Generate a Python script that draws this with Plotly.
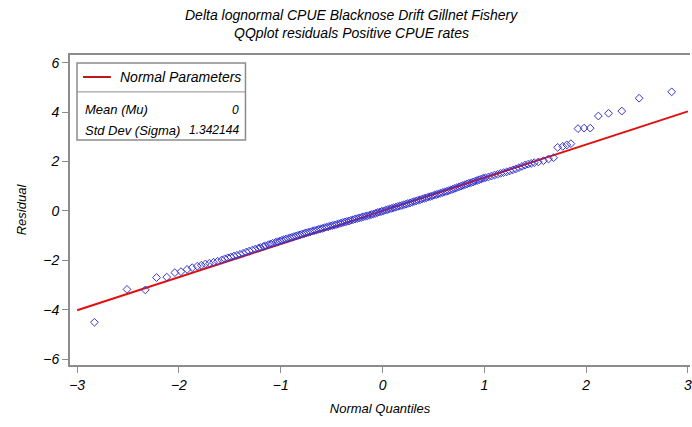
import plotly.graph_objects as go

# Normal quantiles (x) and sorted residuals (y)
quantiles = [-2.83, -2.51, -2.33, -2.22, -2.12, -2.04, -1.98, -1.92, -1.87, -1.82, -1.78, -1.74, -1.70, -1.66,
             -1.62, -1.58, -1.55, -1.52, -1.49, -1.46, -1.43, -1.40, -1.37, -1.34, -1.31, -1.28, -1.25, -1.22,
             -1.20, -1.17, -1.15, -1.12, -1.10, -1.08, -1.05, -1.03, -1.01, -0.99, -0.97, -0.95, -0.93, -0.91,
             -0.89, -0.87, -0.85, -0.83, -0.81, -0.79, -0.77, -0.75, -0.73, -0.71, -0.69, -0.67, -0.65, -0.63,
             -0.61, -0.59, -0.57, -0.55, -0.53, -0.51, -0.49, -0.47, -0.45, -0.43, -0.41, -0.39, -0.37, -0.35,
             -0.33, -0.31, -0.29, -0.27, -0.25, -0.23, -0.21, -0.19, -0.17, -0.15, -0.13, -0.11, -0.09, -0.07,
             -0.05, -0.03, -0.01, 0.01, 0.03, 0.05, 0.07, 0.09, 0.11, 0.13, 0.15, 0.17, 0.19, 0.21, 0.23, 0.25,
             0.27, 0.29, 0.31, 0.33, 0.35, 0.37, 0.39, 0.41, 0.43, 0.45, 0.47, 0.49, 0.51, 0.53, 0.55, 0.57,
             0.59, 0.61, 0.63, 0.65, 0.67, 0.69, 0.71, 0.73, 0.75, 0.77, 0.79, 0.81, 0.83, 0.85, 0.87, 0.89,
             0.91, 0.93, 0.95, 0.97, 0.99, 1.01, 1.04, 1.07, 1.10, 1.13, 1.16, 1.19, 1.22, 1.25, 1.28, 1.31,
             1.34, 1.37, 1.40, 1.43, 1.46, 1.49, 1.53, 1.58, 1.63, 1.68, 1.72, 1.77, 1.81, 1.85, 1.92, 1.98,
             2.04, 2.12, 2.22, 2.35, 2.52, 2.84]
residuals = [-4.51, -3.18, -3.20, -2.70, -2.68, -2.50, -2.46, -2.37, -2.30, -2.24, -2.20, -2.15, -2.12, -2.08,
             -2.04, -1.99, -1.94, -1.90, -1.87, -1.83, -1.80, -1.76, -1.72, -1.67, -1.63, -1.59, -1.55, -1.51,
             -1.48, -1.44, -1.41, -1.37, -1.34, -1.31, -1.27, -1.25, -1.22, -1.19, -1.17, -1.14, -1.12, -1.09,
             -1.07, -1.04, -1.02, -0.99, -0.97, -0.94, -0.92, -0.89, -0.87, -0.85, -0.82, -0.80, -0.78, -0.75,
             -0.73, -0.71, -0.68, -0.66, -0.64, -0.61, -0.59, -0.57, -0.55, -0.52, -0.50, -0.47, -0.45, -0.43,
             -0.41, -0.38, -0.36, -0.33, -0.31, -0.29, -0.27, -0.24, -0.22, -0.20, -0.18, -0.15, -0.13, -0.10,
             -0.07, -0.05, -0.02, 0.00, 0.03, 0.05, 0.08, 0.10, 0.13, 0.15, 0.18, 0.20, 0.22, 0.25, 0.27, 0.30,
             0.32, 0.35, 0.38, 0.40, 0.43, 0.45, 0.48, 0.51, 0.53, 0.56, 0.58, 0.61, 0.64, 0.66, 0.69, 0.72,
             0.74, 0.77, 0.79, 0.82, 0.85, 0.88, 0.91, 0.94, 0.97, 1.00, 1.03, 1.06, 1.09, 1.12, 1.14, 1.17,
             1.20, 1.23, 1.26, 1.29, 1.32, 1.34, 1.37, 1.41, 1.45, 1.48, 1.52, 1.55, 1.58, 1.62, 1.66, 1.70,
             1.75, 1.80, 1.85, 1.89, 1.92, 1.95, 1.98, 2.03, 2.10, 2.15, 2.57, 2.61, 2.67, 2.72, 3.33, 3.35,
             3.35, 3.84, 3.95, 4.04, 4.56, 4.82]

mu = 0.0
sigma = 1.342144
line_x = [-3, 3]
line_y = [mu + sigma * v for v in line_x]

x_ticks = [-3, -2, -1, 0, 1, 2, 3]
y_ticks = [-6, -4, -2, 0, 2, 4, 6]

title_lines = ["Delta lognormal CPUE Blacknose Drift Gillnet Fishery",
               "QQplot residuals Positive CPUE rates"]
legend_title = "Normal Parameters"
param_names = ["Mean (Mu)", "Std Dev (Sigma)"]
param_values = ["0", "1.342144"]

FONT = "Liberation Sans, Arial, sans-serif"
AXIS_GREY = "#8c8c8c"

fig = go.Figure()
fig.add_trace(go.Scatter(x=line_x, y=line_y, mode="lines",
                         line=dict(color="#e01010", width=2), showlegend=False, hoverinfo="skip"))
fig.add_trace(go.Scatter(x=quantiles, y=residuals, mode="markers",
                         marker=dict(symbol="diamond-open", size=6, color="#3535d0",
                                     line=dict(width=1, color="#3535d0")),
                         showlegend=False))

fig.update_layout(
    width=692, height=427,
    margin=dict(l=70, r=0, t=55, b=62),
    paper_bgcolor="white", plot_bgcolor="white",
    font=dict(family=FONT, size=14, color="black", style="italic"),
    xaxis=dict(range=[-3.07, 3.02], tickvals=x_ticks, showgrid=False, zeroline=False,
               showline=True, linecolor=AXIS_GREY, linewidth=2, mirror=True,
               ticks="outside", ticklen=6, tickcolor=AXIS_GREY, tickwidth=1,
               ticklabeloverflow="allow",
               tickfont=dict(size=14, style="italic"),
               title=dict(text="Normal Quantiles", font=dict(size=13, style="italic"), standoff=12)),
    yaxis=dict(range=[-6.24, 6.31], tickvals=y_ticks, showgrid=False, zeroline=False,
               showline=True, linecolor=AXIS_GREY, linewidth=2,
               ticks="outside", ticklen=6, tickcolor=AXIS_GREY, tickwidth=1,
               tickfont=dict(size=14, style="italic"),
               title=dict(text="Residual", font=dict(size=13, style="italic"), standoff=14)),
)

# Two-line title placed as annotations (paper y: 1 = top of plot area at 55 px, 0 = 365 px)
for txt, py in zip(title_lines, [15, 33]):
    fig.add_annotation(xref="paper", yref="paper", x=(352 - 70) / 622, y=(365 - py) / 310,
                       text=txt, showarrow=False, xanchor="center", yanchor="middle",
                       font=dict(size=14, style="italic"))

# Inset legend box (SAS-style parameters table)
bx0, bx1, by0, by1 = 0.0113, 0.283, 0.726, 0.974
fig.add_shape(type="rect", xref="x domain", yref="y domain", x0=bx0, x1=bx1, y0=by0, y1=by1,
              line=dict(color=AXIS_GREY, width=1.5), fillcolor="white", layer="above")
fig.add_shape(type="line", xref="x domain", yref="y domain", x0=bx0, x1=bx1, y0=0.881, y1=0.881,
              line=dict(color=AXIS_GREY, width=1), layer="above")
fig.add_shape(type="line", xref="x domain", yref="y domain", x0=0.0209, x1=0.0659, y0=0.929, y1=0.929,
              line=dict(color="#c01818", width=2), layer="above")
fig.add_annotation(xref="x domain", yref="y domain", x=0.0772, y=0.929, text=legend_title,
                   showarrow=False, xanchor="left", yanchor="middle", font=dict(size=14, style="italic"))
for name, val, yy in zip(param_names, param_values, [0.823, 0.758]):
    fig.add_annotation(xref="x domain", yref="y domain", x=0.0209, y=yy, text=name,
                       showarrow=False, xanchor="left", yanchor="middle", font=dict(size=13, style="italic"))
    fig.add_annotation(xref="x domain", yref="y domain", x=0.275, y=yy, text=val,
                       showarrow=False, xanchor="right", yanchor="middle", font=dict(size=12, style="italic"))

fig.write_html("out.html")
